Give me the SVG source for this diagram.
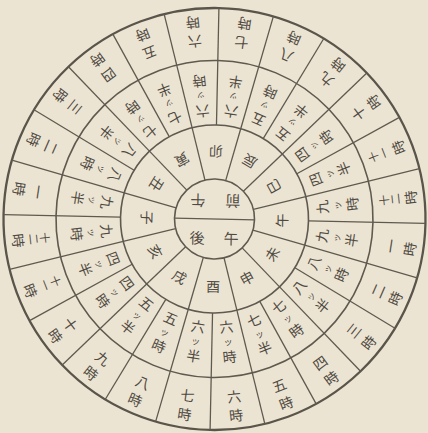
<svg xmlns="http://www.w3.org/2000/svg" width="428" height="433" viewBox="0 0 428 433">
<style>
.ln{stroke:#5f5a50;stroke-width:1.3;fill:none}
.ci{stroke:#5f5a50;stroke-width:1.6;fill:none}
.co{stroke:#5a554b;stroke-width:2.3;fill:none}
text,tspan{font-family:"Noto Sans CJK JP","Noto Sans CJK SC",sans-serif;fill:#4f4a43;text-anchor:middle;dominant-baseline:central}
.t{font-size:14px}
.s{font-size:9px}
.n{font-size:11px}
.c{font-size:15px}
</style>
<rect width="428" height="433" fill="#ece4d2"/>
<g transform="translate(214.5,219) rotate(1.2)">
<g id="connectors">
<circle class="co" r="211"/>
<circle class="ci" r="158.5"/>
<circle class="ci" r="94"/>
<circle class="ci" r="40"/>
<line class="ln" x1="-40" y1="0" x2="40" y2="0"/>
<g id="branch-dividers">
<line class="ln" x1="40" y1="0" x2="94" y2="0" transform="rotate(15)"/>
<line class="ln" x1="40" y1="0" x2="94" y2="0" transform="rotate(45)"/>
<line class="ln" x1="40" y1="0" x2="94" y2="0" transform="rotate(75)"/>
<line class="ln" x1="40" y1="0" x2="94" y2="0" transform="rotate(105)"/>
<line class="ln" x1="40" y1="0" x2="94" y2="0" transform="rotate(135)"/>
<line class="ln" x1="40" y1="0" x2="94" y2="0" transform="rotate(165)"/>
<line class="ln" x1="40" y1="0" x2="94" y2="0" transform="rotate(195)"/>
<line class="ln" x1="40" y1="0" x2="94" y2="0" transform="rotate(225)"/>
<line class="ln" x1="40" y1="0" x2="94" y2="0" transform="rotate(255)"/>
<line class="ln" x1="40" y1="0" x2="94" y2="0" transform="rotate(285)"/>
<line class="ln" x1="40" y1="0" x2="94" y2="0" transform="rotate(315)"/>
<line class="ln" x1="40" y1="0" x2="94" y2="0" transform="rotate(345)"/>
</g>
<g id="hour-dividers">
<line class="ln" x1="94" y1="0" x2="211" y2="0" transform="rotate(0)"/>
<line class="ln" x1="94" y1="0" x2="211" y2="0" transform="rotate(15)"/>
<line class="ln" x1="94" y1="0" x2="211" y2="0" transform="rotate(30)"/>
<line class="ln" x1="94" y1="0" x2="211" y2="0" transform="rotate(45)"/>
<line class="ln" x1="94" y1="0" x2="211" y2="0" transform="rotate(60)"/>
<line class="ln" x1="94" y1="0" x2="211" y2="0" transform="rotate(75)"/>
<line class="ln" x1="94" y1="0" x2="211" y2="0" transform="rotate(90)"/>
<line class="ln" x1="94" y1="0" x2="211" y2="0" transform="rotate(105)"/>
<line class="ln" x1="94" y1="0" x2="211" y2="0" transform="rotate(120)"/>
<line class="ln" x1="94" y1="0" x2="211" y2="0" transform="rotate(135)"/>
<line class="ln" x1="94" y1="0" x2="211" y2="0" transform="rotate(150)"/>
<line class="ln" x1="94" y1="0" x2="211" y2="0" transform="rotate(165)"/>
<line class="ln" x1="94" y1="0" x2="211" y2="0" transform="rotate(180)"/>
<line class="ln" x1="94" y1="0" x2="211" y2="0" transform="rotate(195)"/>
<line class="ln" x1="94" y1="0" x2="211" y2="0" transform="rotate(210)"/>
<line class="ln" x1="94" y1="0" x2="211" y2="0" transform="rotate(225)"/>
<line class="ln" x1="94" y1="0" x2="211" y2="0" transform="rotate(240)"/>
<line class="ln" x1="94" y1="0" x2="211" y2="0" transform="rotate(255)"/>
<line class="ln" x1="94" y1="0" x2="211" y2="0" transform="rotate(270)"/>
<line class="ln" x1="94" y1="0" x2="211" y2="0" transform="rotate(285)"/>
<line class="ln" x1="94" y1="0" x2="211" y2="0" transform="rotate(300)"/>
<line class="ln" x1="94" y1="0" x2="211" y2="0" transform="rotate(315)"/>
<line class="ln" x1="94" y1="0" x2="211" y2="0" transform="rotate(330)"/>
<line class="ln" x1="94" y1="0" x2="211" y2="0" transform="rotate(345)"/>
</g>
</g>
<g id="am" transform="rotate(180)"><text class="c"><tspan x="17" y="17">午</tspan><tspan x="-18" y="17">前</tspan></text></g>
<g id="pm"><text class="c"><tspan x="-17" y="18">後</tspan><tspan x="17" y="18">午</tspan></text></g>
<g id="b-uma" transform="rotate(-90)"><text class="t" x="0" y="67">午</text></g>
<g id="b-hitsuji" transform="rotate(-60)"><text class="t" x="0" y="67">未</text></g>
<g id="b-saru" transform="rotate(-30)"><text class="t" x="0" y="67">申</text></g>
<g id="b-tori" transform="rotate(0)"><text class="t" x="0" y="67">酉</text></g>
<g id="b-inu" transform="rotate(30)"><text class="t" x="0" y="67">戌</text></g>
<g id="b-i" transform="rotate(60)"><text class="t" x="0" y="67">亥</text></g>
<g id="b-ne" transform="rotate(90)"><text class="t" x="0" y="67">子</text></g>
<g id="b-ushi" transform="rotate(120)"><text class="t" x="0" y="67">丑</text></g>
<g id="b-tora" transform="rotate(150)"><text class="t" x="0" y="67">寅</text></g>
<g id="b-u" transform="rotate(180)"><text class="t" x="0" y="67">卯</text></g>
<g id="b-tatsu" transform="rotate(210)"><text class="t" x="0" y="67">辰</text></g>
<g id="b-mi" transform="rotate(240)"><text class="t" x="0" y="67">巳</text></g>
<g id="r3-0" transform="rotate(-82.5)"><text class="t"><tspan x="0" y="108">九</tspan><tspan class="s" x="0" y="123">ッ</tspan><tspan x="0" y="138">半</tspan></text></g>
<g id="r3-1" transform="rotate(-67.5)"><text class="t"><tspan x="0" y="108">八</tspan><tspan class="s" x="0" y="123">ッ</tspan><tspan x="0" y="138">時</tspan></text></g>
<g id="r3-2" transform="rotate(-52.5)"><text class="t"><tspan x="0" y="108">八</tspan><tspan class="s" x="0" y="123">ッ</tspan><tspan x="0" y="138">半</tspan></text></g>
<g id="r3-3" transform="rotate(-37.5)"><text class="t"><tspan x="0" y="108">七</tspan><tspan class="s" x="0" y="123">ッ</tspan><tspan x="0" y="138">時</tspan></text></g>
<g id="r3-4" transform="rotate(-22.5)"><text class="t"><tspan x="0" y="108">七</tspan><tspan class="s" x="0" y="123">ッ</tspan><tspan x="0" y="138">半</tspan></text></g>
<g id="r3-5" transform="rotate(-7.5)"><text class="t"><tspan x="0" y="108">六</tspan><tspan class="s" x="0" y="123">ッ</tspan><tspan x="0" y="138">時</tspan></text></g>
<g id="r3-6" transform="rotate(7.5)"><text class="t"><tspan x="0" y="108">六</tspan><tspan class="s" x="0" y="123">ッ</tspan><tspan x="0" y="138">半</tspan></text></g>
<g id="r3-7" transform="rotate(22.5)"><text class="t"><tspan x="0" y="108">五</tspan><tspan class="s" x="0" y="123">ッ</tspan><tspan x="0" y="138">時</tspan></text></g>
<g id="r3-8" transform="rotate(37.5)"><text class="t"><tspan x="0" y="108">五</tspan><tspan class="s" x="0" y="123">ッ</tspan><tspan x="0" y="138">半</tspan></text></g>
<g id="r3-9" transform="rotate(52.5)"><text class="t"><tspan x="0" y="108">四</tspan><tspan class="s" x="0" y="123">ッ</tspan><tspan x="0" y="138">時</tspan></text></g>
<g id="r3-10" transform="rotate(67.5)"><text class="t"><tspan x="0" y="108">四</tspan><tspan class="s" x="0" y="123">ッ</tspan><tspan x="0" y="138">半</tspan></text></g>
<g id="r3-11" transform="rotate(82.5)"><text class="t"><tspan x="0" y="108">九</tspan><tspan class="s" x="0" y="123">ッ</tspan><tspan x="0" y="138">時</tspan></text></g>
<g id="r3-12" transform="rotate(97.5)"><text class="t"><tspan x="0" y="108">九</tspan><tspan class="s" x="0" y="123">ッ</tspan><tspan x="0" y="138">半</tspan></text></g>
<g id="r3-13" transform="rotate(112.5)"><text class="t"><tspan x="0" y="108">八</tspan><tspan class="s" x="0" y="123">ッ</tspan><tspan x="0" y="138">時</tspan></text></g>
<g id="r3-14" transform="rotate(127.5)"><text class="t"><tspan x="0" y="108">八</tspan><tspan class="s" x="0" y="123">ッ</tspan><tspan x="0" y="138">半</tspan></text></g>
<g id="r3-15" transform="rotate(142.5)"><text class="t"><tspan x="0" y="108">七</tspan><tspan class="s" x="0" y="123">ッ</tspan><tspan x="0" y="138">時</tspan></text></g>
<g id="r3-16" transform="rotate(157.5)"><text class="t"><tspan x="0" y="108">七</tspan><tspan class="s" x="0" y="123">ッ</tspan><tspan x="0" y="138">半</tspan></text></g>
<g id="r3-17" transform="rotate(172.5)"><text class="t"><tspan x="0" y="108">六</tspan><tspan class="s" x="0" y="123">ッ</tspan><tspan x="0" y="138">時</tspan></text></g>
<g id="r3-18" transform="rotate(187.5)"><text class="t"><tspan x="0" y="108">六</tspan><tspan class="s" x="0" y="123">ッ</tspan><tspan x="0" y="138">半</tspan></text></g>
<g id="r3-19" transform="rotate(202.5)"><text class="t"><tspan x="0" y="108">五</tspan><tspan class="s" x="0" y="123">ッ</tspan><tspan x="0" y="138">時</tspan></text></g>
<g id="r3-20" transform="rotate(217.5)"><text class="t"><tspan x="0" y="108">五</tspan><tspan class="s" x="0" y="123">ッ</tspan><tspan x="0" y="138">半</tspan></text></g>
<g id="r3-21" transform="rotate(232.5)"><text class="t"><tspan x="0" y="108">四</tspan><tspan class="s" x="0" y="123">ッ</tspan><tspan x="0" y="138">時</tspan></text></g>
<g id="r3-22" transform="rotate(247.5)"><text class="t"><tspan x="0" y="108">四</tspan><tspan class="s" x="0" y="123">ッ</tspan><tspan x="0" y="138">半</tspan></text></g>
<g id="r3-23" transform="rotate(262.5)"><text class="t"><tspan x="0" y="108">九</tspan><tspan class="s" x="0" y="123">ッ</tspan><tspan x="0" y="138">時</tspan></text></g>
<g id="r4-0" transform="rotate(-82.5)"><text class="t"><tspan x="0" y="178">一</tspan><tspan x="0" y="197">時</tspan></text></g>
<g id="r4-1" transform="rotate(-67.5)"><text class="t"><tspan x="0" y="178">二</tspan><tspan x="0" y="197">時</tspan></text></g>
<g id="r4-2" transform="rotate(-52.5)"><text class="t"><tspan x="0" y="178">三</tspan><tspan x="0" y="197">時</tspan></text></g>
<g id="r4-3" transform="rotate(-37.5)"><text class="t"><tspan x="0" y="178">四</tspan><tspan x="0" y="197">時</tspan></text></g>
<g id="r4-4" transform="rotate(-22.5)"><text class="t"><tspan x="0" y="178">五</tspan><tspan x="0" y="197">時</tspan></text></g>
<g id="r4-5" transform="rotate(-7.5)"><text class="t"><tspan x="0" y="178">六</tspan><tspan x="0" y="197">時</tspan></text></g>
<g id="r4-6" transform="rotate(7.5)"><text class="t"><tspan x="0" y="178">七</tspan><tspan x="0" y="197">時</tspan></text></g>
<g id="r4-7" transform="rotate(22.5)"><text class="t"><tspan x="0" y="178">八</tspan><tspan x="0" y="197">時</tspan></text></g>
<g id="r4-8" transform="rotate(37.5)"><text class="t"><tspan x="0" y="178">九</tspan><tspan x="0" y="197">時</tspan></text></g>
<g id="r4-9" transform="rotate(52.5)"><text class="t"><tspan x="0" y="178">十</tspan><tspan x="0" y="197">時</tspan></text></g>
<g id="r4-10" transform="rotate(67.5)"><text class="t"><tspan class="n" x="0" y="170">十</tspan><tspan class="n" x="0" y="181">一</tspan><tspan x="0" y="197">時</tspan></text></g>
<g id="r4-11" transform="rotate(82.5)"><text class="t"><tspan class="n" x="0" y="170">十</tspan><tspan class="n" x="0" y="181">二</tspan><tspan x="0" y="197">時</tspan></text></g>
<g id="r4-12" transform="rotate(97.5)"><text class="t"><tspan x="0" y="178">一</tspan><tspan x="0" y="197">時</tspan></text></g>
<g id="r4-13" transform="rotate(112.5)"><text class="t"><tspan x="0" y="178">二</tspan><tspan x="0" y="197">時</tspan></text></g>
<g id="r4-14" transform="rotate(127.5)"><text class="t"><tspan x="0" y="178">三</tspan><tspan x="0" y="197">時</tspan></text></g>
<g id="r4-15" transform="rotate(142.5)"><text class="t"><tspan x="0" y="178">四</tspan><tspan x="0" y="197">時</tspan></text></g>
<g id="r4-16" transform="rotate(157.5)"><text class="t"><tspan x="0" y="178">五</tspan><tspan x="0" y="197">時</tspan></text></g>
<g id="r4-17" transform="rotate(172.5)"><text class="t"><tspan x="0" y="178">六</tspan><tspan x="0" y="197">時</tspan></text></g>
<g id="r4-18" transform="rotate(187.5)"><text class="t"><tspan x="0" y="178">七</tspan><tspan x="0" y="197">時</tspan></text></g>
<g id="r4-19" transform="rotate(202.5)"><text class="t"><tspan x="0" y="178">八</tspan><tspan x="0" y="197">時</tspan></text></g>
<g id="r4-20" transform="rotate(217.5)"><text class="t"><tspan x="0" y="178">九</tspan><tspan x="0" y="197">時</tspan></text></g>
<g id="r4-21" transform="rotate(232.5)"><text class="t"><tspan x="0" y="178">十</tspan><tspan x="0" y="197">時</tspan></text></g>
<g id="r4-22" transform="rotate(247.5)"><text class="t"><tspan class="n" x="0" y="170">十</tspan><tspan class="n" x="0" y="181">一</tspan><tspan x="0" y="197">時</tspan></text></g>
<g id="r4-23" transform="rotate(262.5)"><text class="t"><tspan class="n" x="0" y="170">十</tspan><tspan class="n" x="0" y="181">二</tspan><tspan x="0" y="197">時</tspan></text></g>
</g>
</svg>
